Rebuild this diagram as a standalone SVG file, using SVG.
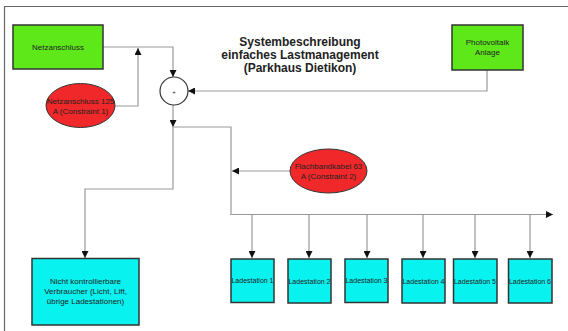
<svg xmlns="http://www.w3.org/2000/svg" width="568" height="331" viewBox="0 0 568 331">
<style>
.t{font-family:"Liberation Sans",Arial,sans-serif;fill:#222;text-anchor:middle}
.s{font-size:8px}
.g{fill:#5ee81a;stroke:#333;stroke-width:1.5}
.c{fill:#08f2ef;stroke:#333;stroke-width:1.5}
.r{fill:#f0282a;stroke:#333;stroke-width:1}
.ln{fill:none;stroke:#999;stroke-width:1.2}
</style>
<defs>
<marker id="a" viewBox="0 0 10 10" refX="10" refY="5" markerWidth="7" markerHeight="7" orient="auto" markerUnits="userSpaceOnUse"><path d="M0,0 L10,5 L0,10 z" fill="#111"/></marker>
</defs>
<rect x="0" y="0" width="568" height="331" fill="#fff"/>
<path d="M4.5,331 V6.5 H568" fill="none" stroke="#666" stroke-width="1.2"/>
<g id="title">
<text class="t" x="300" y="46" font-size="12" font-weight="bold">Systembeschreibung</text>
<text class="t" x="300" y="58.5" font-size="12" font-weight="bold">einfaches Lastmanagement</text>
<text class="t" x="300" y="72" font-size="12" font-weight="bold">(Parkhaus Dietikon)</text>
</g>
<g id="connectors">
<path class="ln" d="M103,47 H173 V77" marker-end="url(#a)"/>
<path class="ln" d="M115,106 H138 V48" marker-end="url(#a)"/>
<path class="ln" d="M487,70 V91 H188" marker-end="url(#a)"/>
<path class="ln" d="M173,105 V127" marker-end="url(#a)"/>
<path class="ln" d="M173,127 H231 V214.5 H553" marker-end="url(#a)"/>
<path class="ln" d="M290,171 H232" marker-end="url(#a)"/>
<path class="ln" d="M173,127 V189 H85 V258" marker-end="url(#a)"/>
<path class="ln" d="M252,214.5 V258" marker-end="url(#a)"/>
<path class="ln" d="M309,214.5 V258" marker-end="url(#a)"/>
<path class="ln" d="M367,214.5 V258" marker-end="url(#a)"/>
<path class="ln" d="M423,214.5 V258" marker-end="url(#a)"/>
<path class="ln" d="M475,214.5 V258" marker-end="url(#a)"/>
<path class="ln" d="M530,214.5 V258" marker-end="url(#a)"/>
</g>
<g id="netzanschluss">
<rect class="g" x="13" y="25" width="90" height="44"/>
<text class="t s" x="58" y="50">Netzanschluss</text>
</g>
<g id="constraint1">
<ellipse class="r" cx="80.5" cy="105.5" rx="34.5" ry="22"/>
<text class="t s" x="80.5" y="104">Netzanschluss 125</text>
<text class="t s" x="80.5" y="113.5">A (Constraint 1)</text>
</g>
<g id="photovoltaik">
<rect class="g" x="452" y="25" width="71" height="45"/>
<text class="t s" x="487.5" y="45">Photovoltaik</text>
<text class="t s" x="487.5" y="55">Anlage</text>
</g>
<g id="sum">
<circle cx="174" cy="91" r="14" fill="#fff" stroke="#333" stroke-width="1.2"/>
<text class="t" x="174" y="93.5" font-size="6">+</text>
</g>
<g id="constraint2">
<ellipse class="r" cx="328.5" cy="171" rx="38.5" ry="22"/>
<text class="t s" x="328.5" y="169">Flachbandkabel 63</text>
<text class="t s" x="328.5" y="179">A (Constraint 2)</text>
</g>
<g id="verbraucher">
<rect class="c" x="32" y="258.5" width="107" height="66.5"/>
<text class="t s" x="85.5" y="284">Nicht kontrollierbare</text>
<text class="t s" x="85.5" y="294">Verbraucher (Licht, Lift,</text>
<text class="t s" x="85.5" y="304">übrige Ladestationen)</text>
</g>
<g id="ladestation1"><rect class="c" x="231" y="259" width="43" height="43.5"/><text class="t" font-size="7" x="252.5" y="283">Ladestation 1</text></g>
<g id="ladestation2"><rect class="c" x="288" y="259" width="43" height="44"/><text class="t" font-size="7" x="309.5" y="283.5">Ladestation 2</text></g>
<g id="ladestation3"><rect class="c" x="345" y="259" width="43" height="43.5"/><text class="t" font-size="7" x="366.5" y="283">Ladestation 3</text></g>
<g id="ladestation4"><rect class="c" x="402" y="259" width="43" height="44"/><text class="t" font-size="7" x="423.5" y="283.5">Ladestation 4</text></g>
<g id="ladestation5"><rect class="c" x="453.5" y="259" width="43.5" height="44"/><text class="t" font-size="7" x="475" y="283.5">Ladestation 5</text></g>
<g id="ladestation6"><rect class="c" x="508.5" y="259" width="43.5" height="44"/><text class="t" font-size="7" x="530" y="283.5">Ladestation 6</text></g>
</svg>
